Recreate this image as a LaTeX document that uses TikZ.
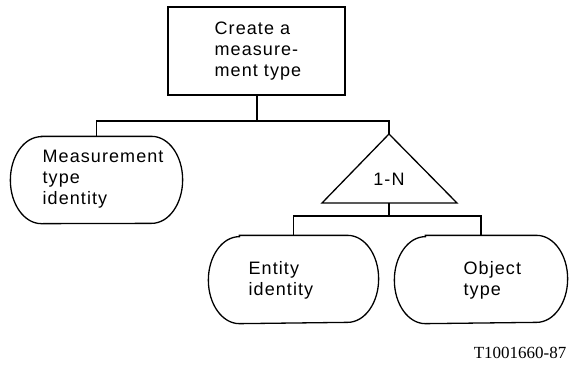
\documentclass[tikz,border=0pt]{standalone}
\usepackage{fontspec}
\setmainfont{Liberation Sans}[LetterSpace=6]
\newfontfamily\capfont{Liberation Serif}
\newcommand\capsuleoutline[1]{%
  \draw ([xshift=31pt]#1.north west) -- ([xshift=-31pt]#1.north east)
    arc[start angle=-90, end angle=90, x radius=31, y radius=43.5]
    -- ([xshift=31pt]#1.south west)
    arc[start angle=90, end angle=270, x radius=31, y radius=43.5] -- cycle;}
\begin{document}
\begin{tikzpicture}[x=1pt,y=-1pt,
  line width=1.3pt,
  every node/.style={font=\fontsize{18}{21}\selectfont, align=left},
  boxnode/.style={draw, rectangle, minimum width=177pt, minimum height=88pt, inner sep=0pt},
  shapenode/.style={rectangle, minimum width=171pt, minimum height=87pt, inner sep=0pt},
  textnode/.style={anchor=west, inner sep=0pt}]
\useasboundingbox (0,0) rectangle (570,367);
% shapes
\node[boxnode] (top) at (256.5,51) {};
\node[shapenode, minimum height=86pt] (mti) at (96.5,180) {};
\node[shapenode, minimum width=169pt] (ei) at (293.5,279.5) {};
\node[shapenode, minimum width=172pt] (ot) at (481,279.5) {};
\capsuleoutline{mti}
\capsuleoutline{ei}
\capsuleoutline{ot}
% texts
\node[textnode] (ttop) at (214,51.5) {Create a\\measure-\\ment type};
\node[textnode] (tmti) at (42,179.5) {Measurement\\type\\identity};
\node[textnode] (tei) at (248,280) {Entity\\identity};
\node[textnode] (tot) at (463,280) {Object\\type};
% triangle
\coordinate (apex) at (389,134);
\coordinate (bl) at (322,203);
\coordinate (br) at (457,203);
\coordinate (bc) at (389,203);
\draw (apex) -- (bl) -- (br) -- cycle;
\node (tri) at (389,179) {1-N};
% connectors
\coordinate (j1) at (257,121);
\coordinate (j2) at (389,216);
\draw (top.south -| j1) -- (j1);
\draw (mti.north) |- (j1) -| (apex);
\draw (bc) -- (j2);
\draw (ei.north) |- (j2) -| (ot.north);
\node[font=\capfont\fontsize{17}{20}\selectfont, anchor=base east, inner sep=0pt] (cap) at (567,358) {T1001660-87};
\end{tikzpicture}
\end{document}
